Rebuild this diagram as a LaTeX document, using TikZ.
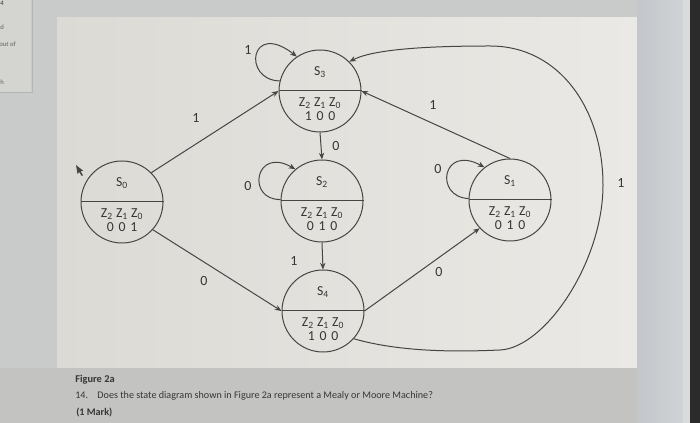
\documentclass[tikz,border=0pt]{standalone}
\usepackage{fontspec}
\setmainfont{Carlito}
\usetikzlibrary{arrows.meta,calc}
\definecolor{ink}{HTML}{454543}
\definecolor{txt}{HTML}{363634}
\definecolor{margin}{HTML}{C9CBCB}
\definecolor{side}{HTML}{D4D4D1}
\definecolor{sideline}{HTML}{B4B6B6}
\definecolor{panelL}{HTML}{DCDAD5}
\definecolor{panelR}{HTML}{EAE9E5}
\definecolor{strip}{HTML}{C3C4C2}
\definecolor{blueL}{HTML}{C2C7CB}
\definecolor{blueR}{HTML}{D0D3D6}
\definecolor{thinR}{HTML}{DADBDB}
\definecolor{edgeR}{HTML}{2B2B2B}
\newcommand\mkstate[4]{%
  \node[state] (#1) at (#2) {};
  \draw[ink,line width=0.75pt] (#1.west) -- (#1.east);
  \node[stxt] (#1n) at ($(#1)+(0,-19)$) {S\textsubscript{#3}};
  \node[stxt] (#1z) at ($(#1)+(0,12)$) {Z\textsubscript{2} Z\textsubscript{1} Z\textsubscript{0}};
  \node[stxt] (#1d) at ($(#1)+(0,25)$) {#4};
}
\newcommand\dg[3]{#1\hspace{3.6pt}#2\hspace{3.6pt}#3}
\begin{document}
\begin{tikzpicture}[x=0.75pt,y=-0.75pt,
  state/.style={circle,draw=ink,line width=0.75pt,minimum size=61.5pt,inner sep=0pt},
  stxt/.style={text=txt,inner sep=0pt,font=\fontsize{10.3}{12}\selectfont},
  lbl/.style={text=txt,inner sep=0pt,font=\fontsize{10.5}{12}\selectfont},
  edge/.style={draw=ink,line width=0.75pt,-{Stealth[length=5pt,width=4pt]}},
  foot/.style={text=txt,inner sep=0pt,anchor=west,font=\fontsize{7.6}{9}\selectfont},
  tiny/.style={text=txt!80,inner sep=0pt,anchor=west,font=\fontsize{5}{6}\selectfont}]
\useasboundingbox (0,0) rectangle (700,423);
% background (photo of a screen)
\fill[margin] (0,0) rectangle (700,423);
\fill[side] (0,0) rectangle (31,92);
\draw[sideline,line width=0.6pt] (32,0) -- (32,93);
\draw[sideline,line width=0.4pt] (0,92) -- (32,92);
\fill[left color=panelL,right color=panelR] (57,18) rectangle (637,368);
\fill[strip] (0,368) rectangle (637,423);
\fill[left color=blueL,right color=blueR] (637,0) rectangle (683,423);
\fill[thinR] (683,0) rectangle (690,423);
\fill[edgeR] (690,0) rectangle (700,423);
\node[tiny,font=\fontsize{5}{6}\selectfont\bfseries] (t0) at (0,3) {4};
\node[tiny] (t1) at (0,27) {d};
\node[tiny] (t2) at (-1,44) {out of};
\node[tiny] (t3) at (0,82) {h};
% cursor
\fill[ink] (76,165) -- (77.5,174) -- (79.3,172.2) -- (81.8,176) -- (83,175.3) -- (80.6,171.4) -- (83.2,170.8) -- cycle;
% states
\mkstate{S3}{320,91}{3}{\dg100}
\mkstate{S2}{322,201}{2}{\dg010}
\mkstate{S0}{122,202}{0}{\dg001}
\mkstate{S1}{510,200}{1}{\dg010}
\mkstate{S4}{323,311}{4}{\dg100}
% transitions
\draw[edge] (S0.45) -- (S3.west);
\draw[edge] (S0.-42) -- (S4.west);
\draw[edge] (S3.south) -- (S2.north);
\draw[edge] (S2.south) -- (S4.north);
\draw[edge] (S4.east) -- (S1.223);
\draw[edge] (S1.north) -- (S3.east);
\draw[edge] (S3.166) .. controls (242,80) and (250,20) .. (S3.124);
\draw[edge] (S2.178) .. controls (246,200) and (255,146) .. (S2.130);
\draw[edge] (S1.178) .. controls (434,197) and (442,144) .. (S1.128);
\draw[edge] (S4.-42) .. controls (400,352) and (455,352) .. (500,350)
  .. controls (545,348) and (603,262) .. (603,185)
  .. controls (603,110) and (560,46) .. (490,46)
  .. controls (420,46) and (372,50) .. (S3.45);
% labels
\node[lbl] (l1) at (248,50) {1};
\node[lbl] (l2) at (196,118) {1};
\node[lbl] (l3) at (433,105) {1};
\node[lbl] (l4) at (336,146) {0};
\node[lbl] (l5) at (248,186) {0};
\node[lbl] (l6) at (438,169) {0};
\node[lbl] (l7) at (621,183) {1};
\node[lbl] (l8) at (294,261) {1};
\node[lbl] (l9) at (204,281) {0};
\node[lbl] (l10) at (439,272) {0};
% footer
\node[foot,font=\fontsize{7.8}{9}\selectfont\bfseries] (f1) at (75,380) {Figure 2a};
\node[foot] (f2) at (75,396) {14.\hspace{7pt}Does the state diagram shown in Figure 2a represent a Mealy or Moore Machine?};
\node[foot,font=\fontsize{7.6}{9}\selectfont\bfseries] (f3) at (76,413) {(1 Mark)};
\end{tikzpicture}
\end{document}
